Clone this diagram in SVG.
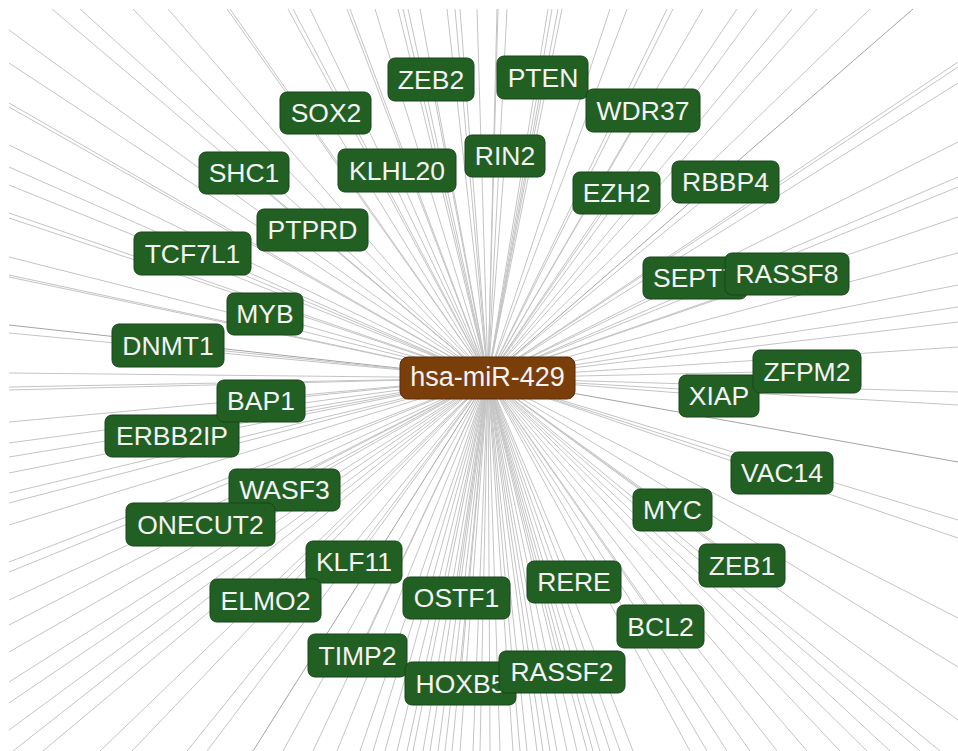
<svg xmlns="http://www.w3.org/2000/svg" width="958" height="751" viewBox="0 0 958 751">
<style>
.e{fill:none;stroke:#c4c4c4;stroke-width:1}
.d{fill:none;stroke:#a4a4a4;stroke-width:1}
.n rect{fill:#215f23;stroke:#17461a;stroke-width:1}
.c rect{fill:#7a3e0b;stroke:#5a2d06;stroke-width:1}
text{font-family:"Liberation Sans",Arial,sans-serif;font-size:26.5px;fill:#f3f3f3;text-anchor:middle}
</style>
<rect width="958" height="751" fill="#ffffff"/>
<g id="connectors">
<path class="e" d="M488 378L52 9M488 378L80 9M488 378L133 9M488 378L168 9M488 378L227 9M488 378L230 9M488 378L288 9M488 378L293 9M488 378L310 9M488 378L347 9M488 378L350 9M488 378L375 9M488 378L398 9M488 378L403 9M488 378L408 9M488 378L420 9M488 378L447 9M488 378L455 9M488 378L460 9M488 378L477 9M488 378L497 9M488 378L498 9M488 378L507 9M488 378L548 9M488 378L552 9M488 378L558 9M488 378L562 9M488 378L610 9M488 378L627 9M488 378L667 9M488 378L673 9M488 378L703 9M488 378L737 9M488 378L757 9M488 378L792 9M488 378L817 9M488 378L870 9"/>
<path class="d" d="M488 378L913 9M488 378L958 462M488 378L253 751M488 378L9 325"/>
<path class="e" d="M488 378L958 62M488 378L958 67M488 378L958 83M488 378L958 142M488 378L958 177M488 378L958 187M488 378L958 217M488 378L958 253M488 378L958 285M488 378L958 307M488 378L958 322M488 378L958 347M488 378L958 392M488 378L958 405M488 378L958 520M488 378L958 538M488 378L958 618M488 378L958 667M488 378L958 720"/>
<path class="e" d="M488 378L13 751M488 378L43 751M488 378L100 751M488 378L132 751M488 378L187 751M488 378L207 751M488 378L283 751M488 378L313 751M488 378L337 751M488 378L360 751M488 378L373 751M488 378L385 751M488 378L397 751M488 378L407 751M488 378L413 751M488 378L423 751M488 378L430 751M488 378L438 751M488 378L445 751M488 378L452 751M488 378L460 751M488 378L473 751M488 378L480 751M488 378L490 751M488 378L500 751M488 378L513 751M488 378L520 751M488 378L527 751M488 378L537 751M488 378L543 751M488 378L550 751M488 378L557 751M488 378L567 751M488 378L577 751M488 378L587 751M488 378L593 751M488 378L600 751M488 378L610 751M488 378L620 751M488 378L633 751M488 378L690 751M488 378L707 751M488 378L727 751M488 378L750 751M488 378L777 751M488 378L807 751M488 378L840 751M488 378L867 751M488 378L890 751M488 378L920 751M488 378L940 751"/>
<path class="e" d="M488 378L9 30M488 378L9 63M488 378L9 103M488 378L9 107M488 378L9 145M488 378L9 167M488 378L9 185M488 378L9 213M488 378L9 218M488 378L9 257M488 378L9 275M488 378L9 277M488 378L9 333M488 378L9 373M488 378L9 387M488 378L9 390M488 378L9 422M488 378L9 443M488 378L9 457M488 378L9 473M488 378L9 493M488 378L9 503M488 378L9 525M488 378L9 562M488 378L9 572M488 378L9 600M488 378L9 625M488 378L9 652M488 378L9 682M488 378L9 703M488 378L9 730"/>
<path class="e" d="M488 378L431 79M488 378L325 113M488 378L244 173M488 378L397 170M488 378L312 230M488 378L192 253M488 378L543 77M488 378L643 110M488 378L505 156M488 378L616 193M488 378L725 182M488 378L695 278M488 378L787 274M488 378L807 371M488 378L719 396M488 378L782 473M488 378L672 510M488 378L742 565M488 378L660 626M488 378L574 582M488 378L456 598M488 378L562 672M488 378L460 683M488 378L357 655M488 378L265 600M488 378L354 562M488 378L200 524M488 378L284 490M488 378L172 436M488 378L261 401M488 378L168 345M488 378L265 314"/>
</g>
<g id="n-ZEB2" class="n"><rect x="388" y="58" width="86" height="43" rx="7"/><text x="431" y="88.5">ZEB2</text></g>
<g id="n-PTEN" class="n"><rect x="497" y="56" width="91" height="43" rx="7"/><text x="543" y="86.5">PTEN</text></g>
<g id="n-SOX2" class="n"><rect x="280" y="92" width="91" height="42" rx="7"/><text x="326" y="121.5">SOX2</text></g>
<g id="n-WDR37" class="n"><rect x="586" y="89" width="114" height="43" rx="7"/><text x="643" y="119.5">WDR37</text></g>
<g id="n-SHC1" class="n"><rect x="199" y="152" width="90" height="42" rx="7"/><text x="244" y="181.5">SHC1</text></g>
<g id="n-KLHL20" class="n"><rect x="338" y="149" width="118" height="43" rx="7"/><text x="397" y="179.5">KLHL20</text></g>
<g id="n-RIN2" class="n"><rect x="465" y="135" width="80" height="42" rx="7"/><text x="505" y="164.5">RIN2</text></g>
<g id="n-EZH2" class="n"><rect x="573" y="172" width="87" height="42" rx="7"/><text x="616.5" y="201.5">EZH2</text></g>
<g id="n-RBBP4" class="n"><rect x="672" y="161" width="107" height="42" rx="7"/><text x="725.5" y="190.5">RBBP4</text></g>
<g id="n-PTPRD" class="n"><rect x="257" y="209" width="111" height="42" rx="7"/><text x="312.5" y="238.5">PTPRD</text></g>
<g id="n-TCF7L1" class="n"><rect x="134" y="232" width="117" height="43" rx="7"/><text x="192.5" y="262.5">TCF7L1</text></g>
<g id="n-SEPT7" class="n"><rect x="643" y="257" width="104" height="42" rx="7"/><text x="653" y="286.5" style="text-anchor:start">SEPT7</text></g>
<g id="n-RASSF8" class="n"><rect x="725" y="253" width="124" height="42" rx="7"/><text x="787" y="282.5">RASSF8</text></g>
<g id="n-MYB" class="n"><rect x="227" y="293" width="76" height="42" rx="7"/><text x="265" y="322.5">MYB</text></g>
<g id="n-DNMT1" class="n"><rect x="112" y="324" width="112" height="43" rx="7"/><text x="168" y="354.5">DNMT1</text></g>
<g id="n-XIAP" class="n"><rect x="679" y="375" width="80" height="42" rx="7"/><text x="719" y="404.5">XIAP</text></g>
<g id="n-ZFPM2" class="n"><rect x="753" y="350" width="108" height="43" rx="7"/><text x="807" y="380.5">ZFPM2</text></g>
<g id="n-ERBB2IP" class="n"><rect x="105" y="415" width="134" height="42" rx="7"/><text x="172" y="444.5">ERBB2IP</text></g>
<g id="n-BAP1" class="n"><rect x="217" y="380" width="88" height="42" rx="7"/><text x="261" y="409.5">BAP1</text></g>
<g id="n-VAC14" class="n"><rect x="731" y="452" width="102" height="42" rx="7"/><text x="782" y="481.5">VAC14</text></g>
<g id="n-WASF3" class="n"><rect x="229" y="469" width="111" height="42" rx="7"/><text x="284.5" y="498.5">WASF3</text></g>
<g id="n-ONECUT2" class="n"><rect x="126" y="503" width="149" height="43" rx="7"/><text x="200.5" y="533.5">ONECUT2</text></g>
<g id="n-MYC" class="n"><rect x="633" y="489" width="79" height="42" rx="7"/><text x="672.5" y="518.5">MYC</text></g>
<g id="n-ZEB1" class="n"><rect x="699" y="544" width="86" height="43" rx="7"/><text x="742" y="574.5">ZEB1</text></g>
<g id="n-KLF11" class="n"><rect x="306" y="541" width="96" height="42" rx="7"/><text x="354" y="570.5">KLF11</text></g>
<g id="n-ELMO2" class="n"><rect x="210" y="579" width="111" height="43" rx="7"/><text x="265.5" y="609.5">ELMO2</text></g>
<g id="n-RERE" class="n"><rect x="527" y="561" width="94" height="42" rx="7"/><text x="574" y="590.5">RERE</text></g>
<g id="n-OSTF1" class="n"><rect x="403" y="577" width="107" height="42" rx="7"/><text x="456.5" y="606.5">OSTF1</text></g>
<g id="n-BCL2" class="n"><rect x="617" y="605" width="87" height="43" rx="7"/><text x="660.5" y="635.5">BCL2</text></g>
<g id="n-TIMP2" class="n"><rect x="308" y="634" width="99" height="43" rx="7"/><text x="357.5" y="664.5">TIMP2</text></g>
<g id="n-HOXB5" class="n"><rect x="405" y="662" width="111" height="43" rx="7"/><text x="460.5" y="692.5">HOXB5</text></g>
<g id="n-RASSF2" class="n"><rect x="499" y="651" width="126" height="42" rx="7"/><text x="562" y="680.5">RASSF2</text></g>
<g id="n-hsa-miR-429" class="c"><rect x="400" y="357" width="175" height="42" rx="8"/><text x="487.5" y="386" style="font-size:27px">hsa-miR-429</text></g>
</svg>
